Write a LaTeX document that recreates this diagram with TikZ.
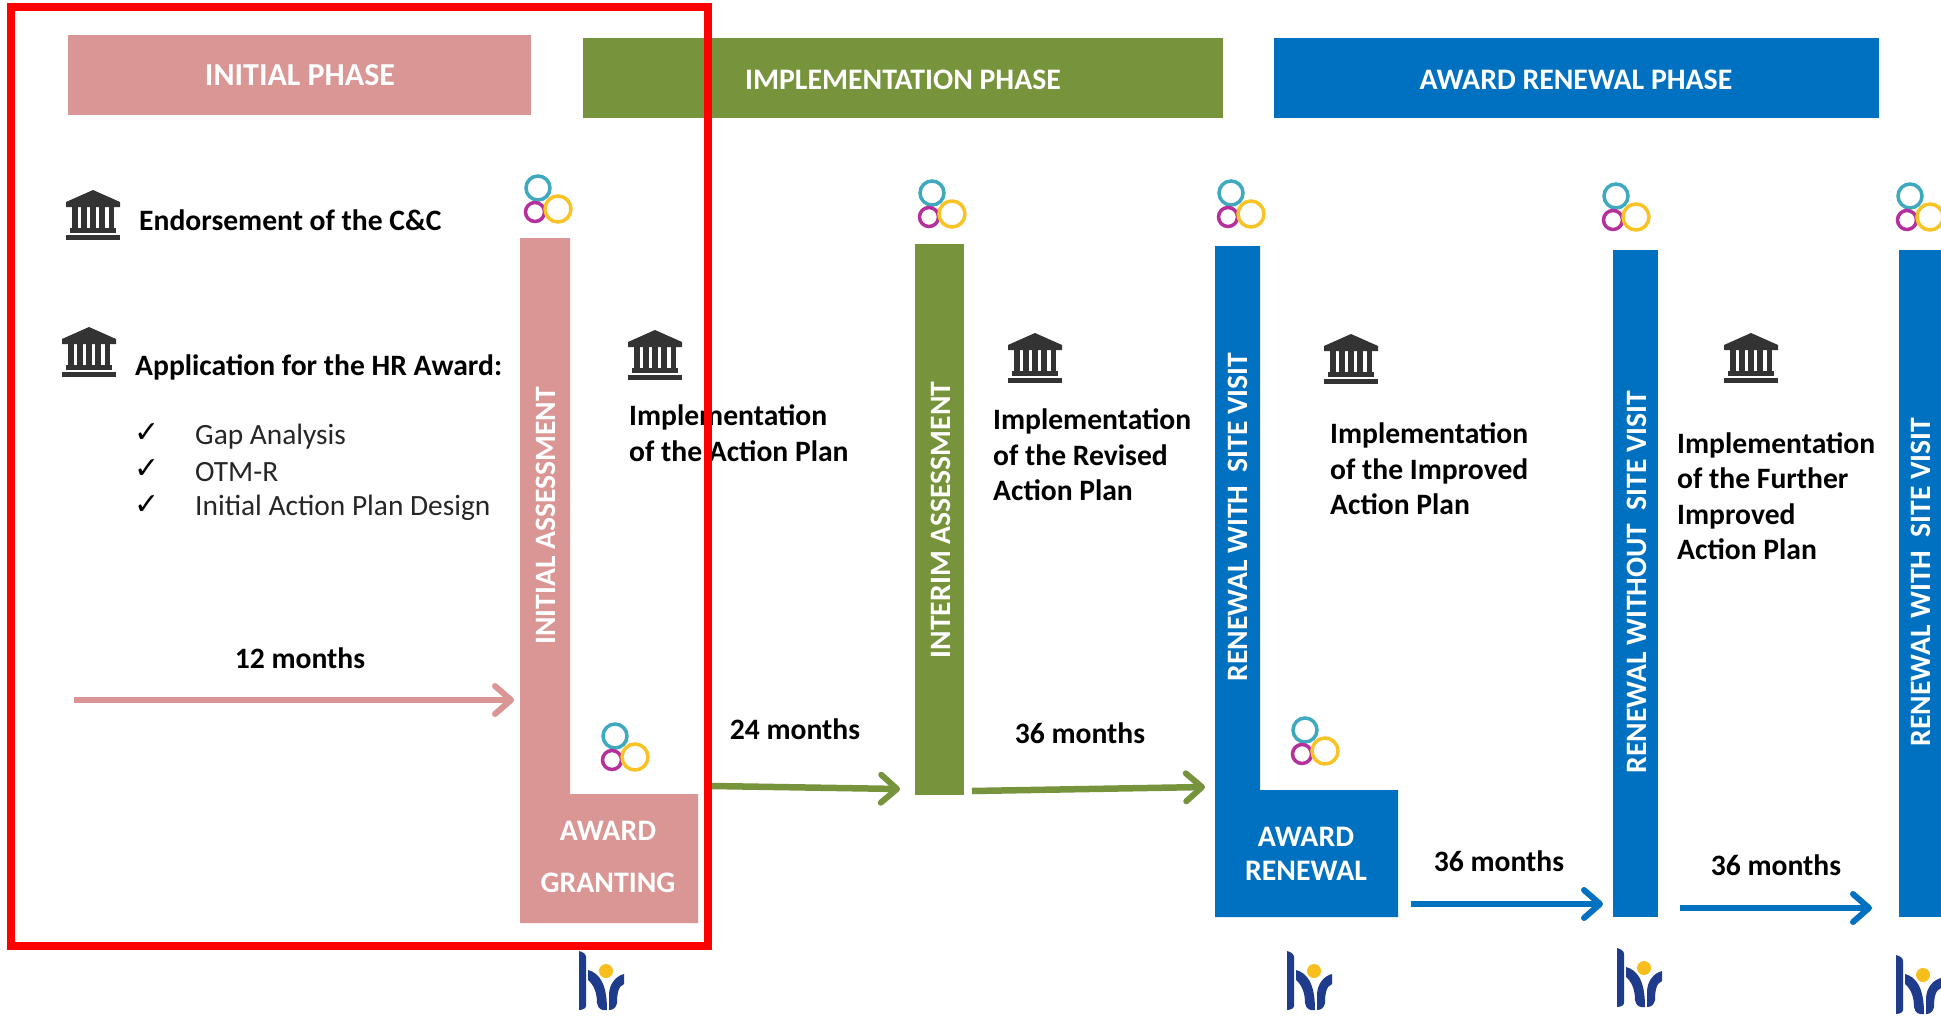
\documentclass[tikz,border=0pt]{standalone}
\usepackage{fontspec}
\setmainfont{Carlito}
\newfontfamily\dejavu{DejaVu Sans}
\usetikzlibrary{arrows.meta}
\definecolor{pinkc}{HTML}{D99694}
\definecolor{greenc}{HTML}{77933C}
\definecolor{bluec}{HTML}{0070C0}
\definecolor{hrblue}{HTML}{1F3B8C}
\definecolor{hryellow}{HTML}{F8BE1E}
\definecolor{bankc}{HTML}{333333}
\tikzset{
  x=1pt,y=-1pt,
  header/.style={font=\fontsize{29.8}{34}\selectfont\bfseries,text=white,inner sep=0pt},
  vlabel/.style={font=\fontsize{29.6}{34}\selectfont\bfseries,text=white,inner sep=0pt,rotate=90},
  awardtext/.style={font=\fontsize{29.8}{34}\selectfont\bfseries,text=white,inner sep=0pt},
  boldtext/.style={font=\fontsize{29.6}{35.5}\selectfont\bfseries,text=black,inner sep=0pt,anchor=west,align=left},
  plaintext/.style={font=\fontsize{29.4}{35}\selectfont,text=black!85,inner sep=0pt,anchor=west},
  checkmark/.style={font=\dejavu\fontsize{30}{30}\selectfont,text=black,inner sep=0pt},
  period/.style={font=\fontsize{29.6}{34}\selectfont\bfseries,text=black,inner sep=0pt},
  flow/.style={line width=6.5pt,-{Straight Barb[length=16pt,width=28pt,line width=6pt,round]}},
  bankicon/.pic={
    \fill[bankc] (0,-25) -- (27,-13) -- (27,-8) -- (-27,-8) -- (-27,-13) -- cycle;
    \foreach \cx in {-21,-12,-3,6,15.5} \fill[bankc] (\cx,-8) rectangle (\cx+5.5,14);
    \fill[bankc] (-23,13) rectangle (23,18);
    \fill[bankc] (-27,19.5) rectangle (27,25);
  },
  ringlogo/.pic={
    \draw[line width=3.5pt,color={rgb,255:red,63;green,169;blue,192}] (-10,-11) circle[radius=12pt];
    \draw[line width=3.5pt,color={rgb,255:red,181;green,48;blue,154}] (-13,13) circle[radius=9.5pt];
    \draw[line width=3.5pt,color={rgb,255:red,247;green,195;blue,38}] (10,10) circle[radius=13pt];
  },
  hrlogo/.pic={
    \fill[hrblue] (0,0) .. controls (4,1) and (7,3) .. (7,6) -- (7,55) .. controls (7,57) and (4,59) .. (0,59) -- cycle;
    \fill[hrblue] (9,19) .. controls (20,22) and (28,32) .. (28,59) .. controls (23,60) and (19,58) .. (18,52) .. controls (18,42) and (15,34) .. (9,29) -- cycle;
    \fill[hrblue] (45,23) -- (45,33) .. controls (39,35) and (38,44) .. (38,52) .. controls (37,57) and (34,59) .. (30,59) -- (30,44) .. controls (30,33) and (37,25) .. (45,23) -- cycle;
    \fill[hryellow] (27,20) circle[radius=7pt];
  }
}
\begin{document}
\begin{tikzpicture}
\clip (0,0) rectangle (1941,1015);
\fill[white] (0,0) rectangle (1941,1015);
% phase headers
\fill[pinkc] (68,35) rectangle (531,115);
\fill[greenc] (583,38) rectangle (1223,118);
\fill[bluec] (1274,38) rectangle (1879,118);
\node[header,font=\fontsize{32}{34}\selectfont\bfseries] (h1) at (300,75) {INITIAL PHASE};
\node[header] (h2) at (903,80) {IMPLEMENTATION PHASE};
\node[header] (h3) at (1576,80) {AWARD RENEWAL PHASE};
% bars
\fill[pinkc] (520,238) -- (570,238) -- (570,794) -- (698,794) -- (698,923) -- (520,923) -- cycle;
\fill[greenc] (915,244) rectangle (964,795);
\fill[bluec] (1215,246) -- (1260,246) -- (1260,790) -- (1398,790) -- (1398,917) -- (1215,917) -- cycle;
\fill[bluec] (1613,250) rectangle (1658,917);
\fill[bluec] (1899,250) rectangle (1941,917);
\node[vlabel] (v1) at (546,516) {INITIAL ASSESSMENT};
\node[vlabel] (v2) at (941,520) {INTERIM ASSESSMENT};
\node[vlabel] (v3) at (1238,517) {RENEWAL WITH\ \ SITE VISIT};
\node[vlabel] (v4) at (1637,582) {RENEWAL WITHOUT\ \ SITE VISIT};
\node[vlabel] (v5) at (1921,582) {RENEWAL WITH\ \ SITE VISIT};
\node[awardtext] (a1) at (608,831) {AWARD};
\node[awardtext] (a2) at (608,883) {GRANTING};
\node[awardtext] (a3) at (1306,837) {AWARD};
\node[awardtext] (a4) at (1306,871) {RENEWAL};
% text
\node[boldtext] (t1) at (139,220) {Endorsement of the C\&C};
\node[boldtext] (t2) at (135,367) {Application for the HR Award:};
\node[checkmark] (c1) at (147,433) {✓};
\node[checkmark] (c2) at (147,469) {✓};
\node[checkmark] (c3) at (147,505) {✓};
\node[plaintext] (p1) at (195,437) {Gap Analysis};
\node[plaintext] (p2) at (195,472) {OTM-R};
\node[plaintext] (p3) at (195,508) {Initial Action Plan Design};
\node[boldtext] (b1) at (629,433) {Implementation\\of the Action Plan};
\node[boldtext] (b2) at (993,455) {Implementation\\of the Revised\\Action Plan};
\node[boldtext] (b3) at (1330,469) {Implementation\\of the Improved\\Action Plan};
\node[boldtext] (b4) at (1677,496) {Implementation\\of the Further\\Improved\\Action Plan};
% icons
\pic at (93,215) {bankicon};
\pic at (89,352) {bankicon};
\pic at (655,355) {bankicon};
\pic at (1035,358) {bankicon};
\pic at (1351,359) {bankicon};
\pic at (1751,358) {bankicon};
\pic at (548,199) {ringlogo};
\pic at (942,204) {ringlogo};
\pic at (1241,204) {ringlogo};
\pic at (1626,207) {ringlogo};
\pic at (1920,207) {ringlogo};
\pic at (625,747) {ringlogo};
\pic at (1315,741) {ringlogo};
\pic at (579,951) {hrlogo};
\pic at (1287,951) {hrlogo};
\pic at (1617,948) {hrlogo};
\pic at (1896,955) {hrlogo};
% durations
\node[period] (m1) at (300,658) {12 months};
\node[period] (m2) at (795,729) {24 months};
\node[period] (m3) at (1080,733) {36 months};
\node[period] (m4) at (1499,861) {36 months};
\node[period] (m5) at (1776,865) {36 months};
% arrows
\coordinate (s1) at (74,700);
\coordinate (e1) at (514,700);
\coordinate (s2) at (712,786);
\coordinate (e2) at (900,789);
\coordinate (s3) at (972,791);
\coordinate (e3) at (1205,787);
\coordinate (s4) at (1411,904);
\coordinate (e4) at (1603,904);
\coordinate (s5) at (1680,908);
\coordinate (e5) at (1872,908);
\draw[flow,pinkc] (s1) -- (e1);
\draw[flow,greenc] (s2) -- (e2);
\draw[flow,greenc] (s3) -- (e3);
\draw[flow,bluec] (s4) -- (e4);
\draw[flow,bluec] (s5) -- (e5);
% red frame
\draw[red,line width=8pt] (11,7) rectangle (708,946);
\end{tikzpicture}
\end{document}
